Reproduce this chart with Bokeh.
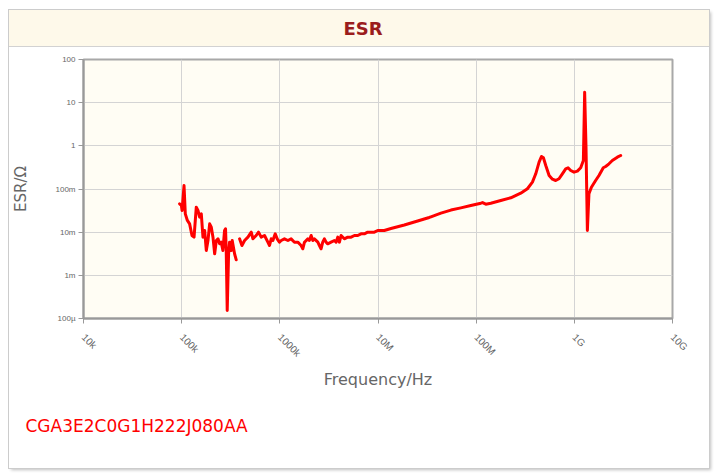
from bokeh.plotting import figure
from bokeh.models import Title, FixedTicker
from bokeh.embed import file_html
from bokeh.resources import INLINE

title_text = "ESR"
part_number = "CGA3E2C0G1H222J080AA"
x_axis_title = "Frequency/Hz"
y_axis_title = "ESR/\u03a9"

x_ticks = [1e4, 1e5, 1e6, 1e7, 1e8, 1e9, 1e10]
x_tick_labels = ["10k", "100k", "1000k", "10M", "100M", "1G", "10G"]
y_ticks = [1e-4, 1e-3, 1e-2, 1e-1, 1e0, 1e1, 1e2]
y_tick_labels = ["100\u00b5", "1m", "10m", "100m", "1", "10", "100"]

# frequency (Hz) and ESR (ohm); NaN marks the gap in the trace
freq_hz = [
    95300, 99300, 101000, 105700, 108900, 114300, 120500, 127400, 133700, 140900,
    146600, 152400, 158500, 164800, 171400, 178200, 185400, 192800, 200400, 208400,
    216800, 225400, 234400, 243800, 252900, 263000, 273500, 279900, 284400, 291100,
    300600, 307600, 319900, 327300, 345900, 359700, 375000,
    389000, 411100, 437500, 473200, 511700, 532100, 574100, 606700, 645700, 698200,
    755100, 785200, 816600, 849200, 897500, 939700, 990800, 1033000, 1114000, 1208000,
    1303000, 1409000, 1524000, 1648000, 1714000, 1782000, 1928000, 2000000, 2084000, 2168000,
    2249000, 2438000, 2529000, 2630000, 2735000, 2844000, 2958000, 3076000, 3327000, 3597000,
    3741000, 3890000, 4046000, 4207000, 4539000, 4920000, 5321000, 5754000, 6223000, 6714000,
    7261000, 7852000, 8492000, 9183000, 9931000, 11590000, 13550000, 15850000, 18540000, 21680000,
    25350000, 29580000, 33270000, 34590000, 43750000, 55340000, 69820000, 88310000, 111700000, 116100000,
    125300000, 140900000, 178200000, 225400000, 284400000, 332700000, 374100000, 404600000, 437500000, 462400000,
    484200000, 511700000, 553400000, 598400000, 645700000, 698200000, 755100000, 816600000, 863000000, 918300000,
    993100000, 1074000000, 1161000000, 1236000000, 1274000000, 1315000000, 1358000000, 1409000000, 1493000000, 1648000000,
    1782000000, 1972000000, 2084000000, 2254000000, 2438000000, 2742000000, 2965000000,
]
esr_ohm = [
    0.0454, 0.0415, 0.0318, 0.1205, 0.0266, 0.0187, 0.0156, 0.00837, 0.00766, 0.0379,
    0.0318, 0.0223, 0.0266, 0.00766, 0.01094, 0.00377, 0.00641, 0.0156, 0.01306, 0.00766,
    0.00316, 0.00641, 0.00701, 0.00537, 0.00587, 0.00377, 0.01094, 0.01194, 0.00377, 0.000153,
    0.00316, 0.00587, 0.00377, 0.00641, 0.00316, 0.00229, float("nan"),
    0.00701, 0.00491, 0.00641, 0.00766, 0.0100, 0.00701, 0.00837, 0.0100, 0.00766, 0.00837,
    0.00586, 0.00491, 0.00701, 0.00641, 0.00916, 0.00701, 0.00586, 0.00641, 0.00701, 0.00641,
    0.00701, 0.00586, 0.00586, 0.00491, 0.00412, 0.00586, 0.00701, 0.00641, 0.00837, 0.00641,
    0.00701, 0.00586, 0.00491, 0.00412, 0.00586, 0.00701, 0.00586, 0.00537, 0.00586, 0.00641,
    0.00586, 0.00766, 0.00586, 0.00837, 0.00701, 0.00766, 0.00766, 0.00837, 0.00837, 0.00916,
    0.00916, 0.0100, 0.0100, 0.0100, 0.01094, 0.01094, 0.01216, 0.01334, 0.01466, 0.01633,
    0.01815, 0.02018, 0.02188, 0.02270, 0.02754, 0.0325, 0.0366, 0.0415, 0.0469, 0.0484,
    0.0445, 0.0469, 0.0542, 0.0625, 0.0800, 0.1012, 0.1439, 0.2249, 0.4178, 0.5662,
    0.5284, 0.3508, 0.2056, 0.1690, 0.1574, 0.1726, 0.2249, 0.2938, 0.3097, 0.2685,
    0.2455, 0.2588, 0.3097, 0.4571, 17.50, 0.929, 0.01094, 0.0774, 0.1102, 0.1574,
    0.2056, 0.3097, 0.3319, 0.3837, 0.4571, 0.5458, 0.5970,
]

W, H = 700, 458
p = figure(width=W, height=H, x_axis_type="log", y_axis_type="log",
           x_range=(x_ticks[0], x_ticks[-1]), y_range=(y_ticks[0], y_ticks[-1]),
           output_backend="svg", toolbar_location=None,
           min_border_left=73, min_border_right=37, min_border_top=49, min_border_bottom=150)
p.margin = (10, 0, 0, 9)
p.styles = {
    "box-shadow": "0 0 0 1px #cccccc, 2px 2px 3px rgba(0,0,0,0.25)",
    "background": "linear-gradient(to bottom, #fef9ea 0px, #fef9ea 36px, #d2d2d2 36px, #d2d2d2 37px, #ffffff 37px)",
}

p.border_fill_color = "white"
p.border_fill_alpha = 0
p.background_fill_color = "#fffdf4"
p.outline_line_color = "#a8a8a8"
p.outline_line_width = 2

xax = p.below[0]
yax = p.left[0]

# the trailing empty line lifts the title into the band above the chart
p.title.text = title_text + "\n"
p.title.align = "left"
p.title.vertical_align = "bottom"
p.title.offset = 260
p.title.standoff = 0
p.title.text_font = "DejaVu Sans"
p.title.text_font_style = "bold"
p.title.text_font_size = "18px"
p.title.text_color = "#9b1d1d"

p.add_layout(Title(text=part_number, align="left", offset=-58, standoff=45,
                   text_font="DejaVu Sans", text_font_style="normal", text_font_size="17px",
                   text_color="#ff0000"), "below")

p.line(freq_hz, esr_ohm, line_color="#ff0000", line_width=3, line_join="round", line_cap="round")

for ax in (xax, yax):
    ax.axis_line_color = "#999999"
    ax.axis_line_width = 2
    ax.major_tick_line_color = "#999999"
    ax.major_tick_out = 5
    ax.major_tick_in = 0
    ax.minor_tick_line_color = None
    ax.major_label_text_color = "#666666"
    ax.major_label_text_font = "Liberation Sans"
    ax.axis_label_text_color = "#666666"
    ax.axis_label_text_font = "DejaVu Sans"
    ax.axis_label_text_font_style = "normal"

xax.ticker = FixedTicker(ticks=x_ticks)
yax.ticker = FixedTicker(ticks=y_ticks)
xax.major_label_overrides = dict(zip(x_ticks, x_tick_labels))
yax.major_label_overrides = dict(zip(y_ticks, y_tick_labels))
xax.major_label_orientation = -0.785
xax.major_label_text_font_size = "10px"
yax.major_label_text_font_size = "8px"
yax.major_label_standoff = 3
xax.major_label_standoff = 12
xax.axis_label = x_axis_title
yax.axis_label = y_axis_title
xax.axis_label_text_font_size = "16px"
yax.axis_label_text_font_size = "15px"
xax.axis_label_standoff = 4
yax.axis_label_standoff = 22

p.xgrid.grid_line_color = "#d4d4d4"
p.ygrid.grid_line_color = "#d4d4d4"
p.xgrid.ticker = FixedTicker(ticks=x_ticks)
p.ygrid.ticker = FixedTicker(ticks=y_ticks)

open("out.html", "w").write(file_html(p, INLINE))
